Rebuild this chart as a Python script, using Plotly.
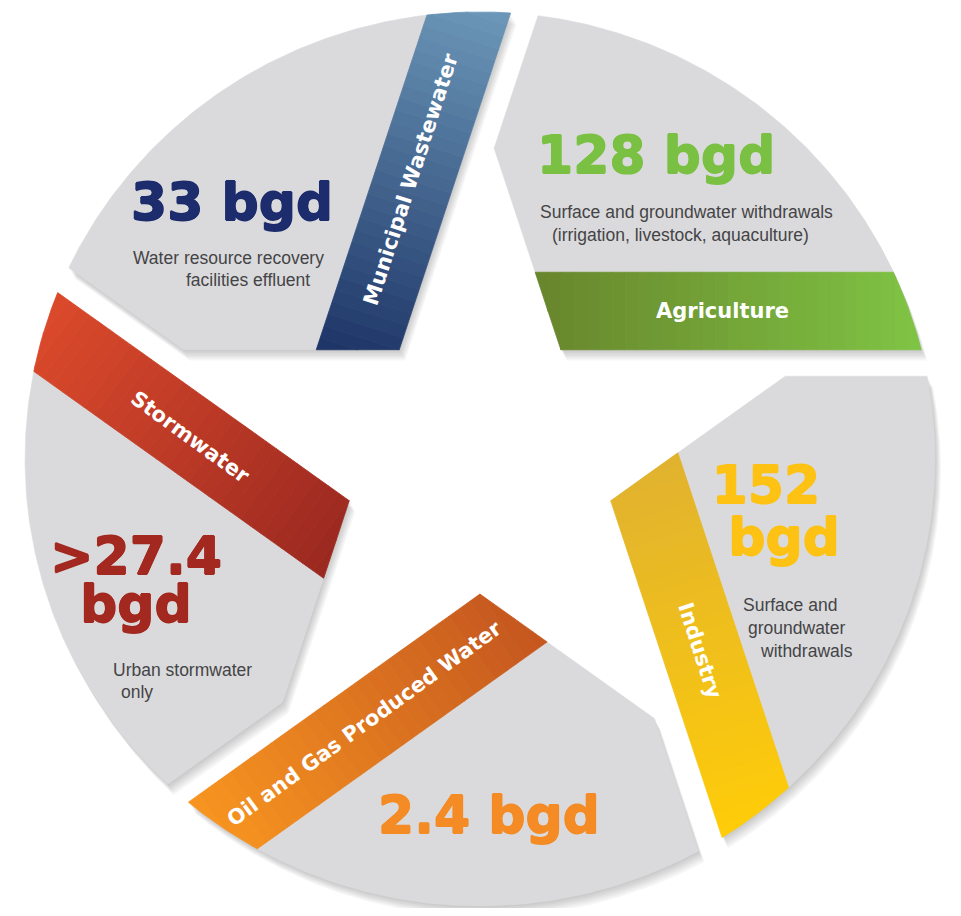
import numpy as np
import plotly.graph_objects as go

# ---------------- data ----------------
categories = ["Municipal Wastewater", "Agriculture", "Industry",
              "Oil and Gas Produced Water", "Stormwater"]
values_bgd = [33, 128, 152, 2.4, 27.4]
value_prefix = ["", "", "", "", ">"]
value_break = [False, False, True, False, True]   # number and unit on two lines
descriptions = [
    ["Water resource recovery", "facilities effluent"],
    ["Surface and groundwater withdrawals", "(irrigation, livestock, aquaculture)"],
    ["Surface and", "groundwater", "withdrawals"],
    [],
    ["Urban stormwater", "only"],
]

# ---------------- styling / layout ----------------
band_inner = ["#1d3466", "#68852c", "#e0b22f", "#c4561f", "#9a2820"]
band_outer = ["#6c98b9", "#7fc444", "#ffcc08", "#f8951f", "#dc4a2b"]
value_color = ["#1c2c6c", "#7ac143", "#fdc213", "#f48b25", "#a3281f"]
band_angle = [-72, 0, 72, 144, 216]      # screen angle (deg, y down) of each band

CX, CY, RX, RY = 480, 459, 455, 447
A_IN, B_OUT, GAP = 0.2444, 0.4178, 0.1853

# page offset of the plot (default body margin of the html page)
OFF = 8
W, H = 961, 916

BIG_SIZE = 52
# value text placement: (x, y, line spacing px, leading nbsp on 2nd line)
value_pos = [(232, 202, None, 0), (656, 155, None, 0), (766, 511, 52, 2),
             (489, 815, None, 0), (136, 580, 48, 0)]
desc_pos = [[(228, 258), (248, 280)], [(686, 212), (680, 235)],
            [(790, 605), (796, 628), (806, 651)], [], [(182, 670), (137, 692)]]
label_pos = [(411, 179), (722, 311), (700, 651), (364, 724), (190, 437)]


def mvec(th):
    r = np.radians(th)
    return np.array([np.sin(r), -np.cos(r)])


def dvec(th):
    r = np.radians(th)
    return np.array([np.cos(r), np.sin(r)])


def clip(poly, n, c):
    out = []
    N = len(poly)
    for i in range(N):
        P, Q = poly[i], poly[(i + 1) % N]
        fp, fq = np.dot(n, P) - c, np.dot(n, Q) - c
        if fp <= 0:
            out.append(P)
        if fp * fq < 0:
            t = fp / (fp - fq)
            out.append(P + t * (Q - P))
    return out


def disk(r=1.0, n=720):
    a = np.linspace(0, 2 * np.pi, n, endpoint=False)
    return [np.array([r * np.cos(t), r * np.sin(t)]) for t in a]


def piece_poly(th, r=1.0):
    p = disk(r)
    p = clip(p, -mvec(th), -A_IN)
    p = clip(p, -mvec(th + 72), -A_IN)
    p = clip(p, mvec(th - 72), GAP)
    return p


def to_px(poly, dx=0, dy=0):
    xs = [CX + RX * p[0] + dx for p in poly]
    ys = [CY + RY * p[1] + dy for p in poly]
    return xs + xs[:1], ys + ys[:1]


def hex2rgb(h):
    h = h.lstrip("#")
    return [int(h[i:i + 2], 16) for i in (0, 2, 4)]


def mix(c1, c2, t):
    a, b = hex2rgb(c1), hex2rgb(c2)
    return "rgb(%d,%d,%d)" % tuple(round(a[i] + (b[i] - a[i]) * t) for i in range(3))


fig = go.Figure()


def add_poly(poly, color, dx=0, dy=0, lw=0):
    xs, ys = to_px(poly, dx, dy)
    fig.add_trace(go.Scatter(x=xs, y=ys, mode="lines", fill="toself",
                             fillcolor=color,
                             line=dict(width=lw, color=color),
                             hoverinfo="skip", showlegend=False))


# soft drop shadows
for th in band_angle:
    pp = piece_poly(th)
    for k in range(1, 7):
        add_poly(pp, "rgba(0,0,0,0.035)", dx=1.0 * k, dy=1.8 * k)

# pieces: gray body + gradient band
for i, th in enumerate(band_angle):
    pp = piece_poly(th)
    gray = clip(pp, -mvec(th), -B_OUT)
    add_poly(gray, "#dadadc", lw=0.5)
    band = clip(pp, mvec(th), B_OUT)
    d = dvec(th)
    ts = [np.dot(d, p) for p in band]
    t0, t1 = min(ts), max(ts)
    nstrip = 30
    edges = np.linspace(t0, t1, nstrip + 1)
    for j in range(nstrip):
        s = clip(clip(band, -d, -edges[j]), d, edges[j + 1])
        if len(s) > 2:
            col = mix(band_inner[i], band_outer[i], (j + 0.5) / nstrip)
            add_poly(s, col, lw=0.8)

# ---------------- text ----------------
SMALL = dict(family="Liberation Sans", size=17.5, color="#444446")
LABEL = dict(family="DejaVu Sans", size=21, color="white", weight="bold")


def heavy(c):
    s = 0.7
    return (f"{s}px 0 0 {c}, -{s}px 0 0 {c}, 0 {s}px 0 {c}, 0 -{s}px 0 {c}")


ann = []
for i, cat in enumerate(categories):
    num = f"{value_prefix[i]}{values_bgd[i]:g}"
    x, y, spacing, pad = value_pos[i]
    if value_break[i]:
        span = f'<span style="font-size:{BIG_SIZE}px">'
        txt = (f"{span}{num}</span><br>{span}" + "&nbsp;" * pad + "bgd</span>")
        size = spacing / 1.3
    else:
        txt = f"{num} bgd"
        size = BIG_SIZE
    ann.append(dict(x=x, y=y, text=txt, showarrow=False, align="center",
                    font=dict(family="DejaVu Sans", size=size, weight="bold",
                              color=value_color[i], shadow=heavy(value_color[i]))))
    for t, (xx, yy) in zip(descriptions[i], desc_pos[i]):
        ann.append(dict(x=xx, y=yy, text=t, showarrow=False, font=SMALL))
    lx, ly = label_pos[i]
    ta = band_angle[i]
    if ta > 90:
        ta -= 180
    ann.append(dict(x=lx, y=ly, text=cat, showarrow=False, textangle=ta, font=LABEL))

for a in ann:
    a.update(xref="x", yref="y", xanchor="center", yanchor="middle")

fig.update_layout(
    width=W - 2 * OFF, height=H - 2 * OFF,
    margin=dict(l=0, r=0, t=0, b=0),
    paper_bgcolor="white", plot_bgcolor="white",
    xaxis=dict(range=[OFF, W - OFF], visible=False, fixedrange=True),
    yaxis=dict(range=[H - OFF, OFF], visible=False, fixedrange=True),
    annotations=ann,
    showlegend=False,
)

fig.write_html("out.html")
